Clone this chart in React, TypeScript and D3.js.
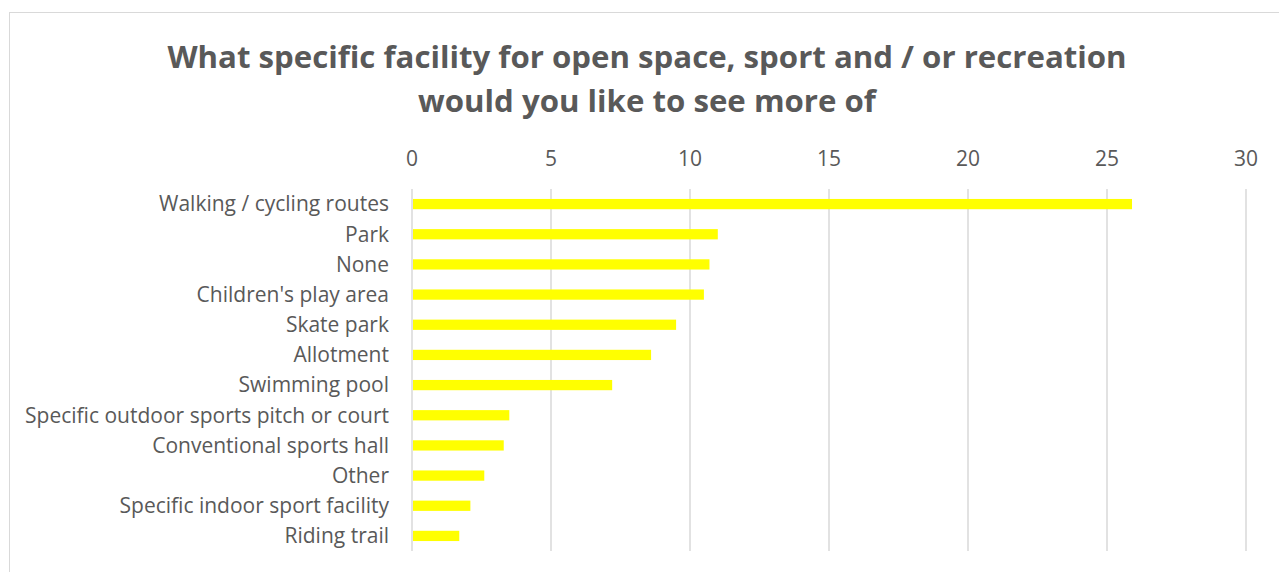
import React from "react";
import * as d3 from "d3";

const categories = [
  "Walking / cycling routes",
  "Park",
  "None",
  "Children's play area",
  "Skate park",
  "Allotment",
  "Swimming pool",
  "Specific outdoor sports pitch or court",
  "Conventional sports hall",
  "Other",
  "Specific indoor sport facility",
  "Riding trail",
];
const values = [25.9, 11.0, 10.7, 10.5, 9.5, 8.6, 7.2, 3.5, 3.3, 2.6, 2.1, 1.7];
const ticks = [0, 5, 10, 15, 20, 25, 30];
const titleLines = [
  "What specific facility for open space, sport and / or recreation",
  "would you like to see more of",
];

const W = 1279;
const H = 572;
const FONT = "'Open Sans', 'Liberation Sans', sans-serif";

export default function App() {
  const x = d3.scaleLinear().domain([0, 30]).range([412, 1246]);
  const y = d3
    .scaleBand<string>()
    .domain(categories)
    .range([189, 551])
    .paddingInner(0.66)
    .paddingOuter(0.33);

  return (
    <svg
      width={W}
      height={H}
      style={{ position: "absolute", left: 0, top: 0, background: "#fff" }}
    >
      <rect x={9.5} y={12.5} width={W + 10} height={H + 10} fill="#fff" stroke="#D9D9D9" strokeWidth={1} />
      {titleLines.map((t, i) => (
        <text
          key={i}
          x={647}
          y={68 + i * 44}
          textAnchor="middle"
          fontFamily={FONT}
          fontWeight="bold"
          fontSize={31.2}
          fill="#595959"
        >
          {t}
        </text>
      ))}
      {ticks.map((t) => (
        <g key={t}>
          <line x1={x(t)} x2={x(t)} y1={189} y2={551} stroke="#D9D9D9" strokeWidth={1.5} />
          <text
            x={x(t)}
            y={166}
            textAnchor="middle"
            fontFamily={FONT}
            fontSize={21}
            fill="#595959"
          >
            {t}
          </text>
        </g>
      ))}
      {categories.map((c, i) => (
        <g key={c}>
          <rect
            x={x(0) + 1}
            y={y(c)!}
            width={x(values[i]) - x(0) - 1}
            height={y.bandwidth()}
            fill="#FFFF00"
          />
          <text
            x={389}
            y={y(c)! + y.bandwidth() / 2}
            dy="0.35em"
            textAnchor="end"
            fontFamily={FONT}
            fontSize={21}
            fill="#595959"
          >
            {c}
          </text>
        </g>
      ))}
    </svg>
  );
}
